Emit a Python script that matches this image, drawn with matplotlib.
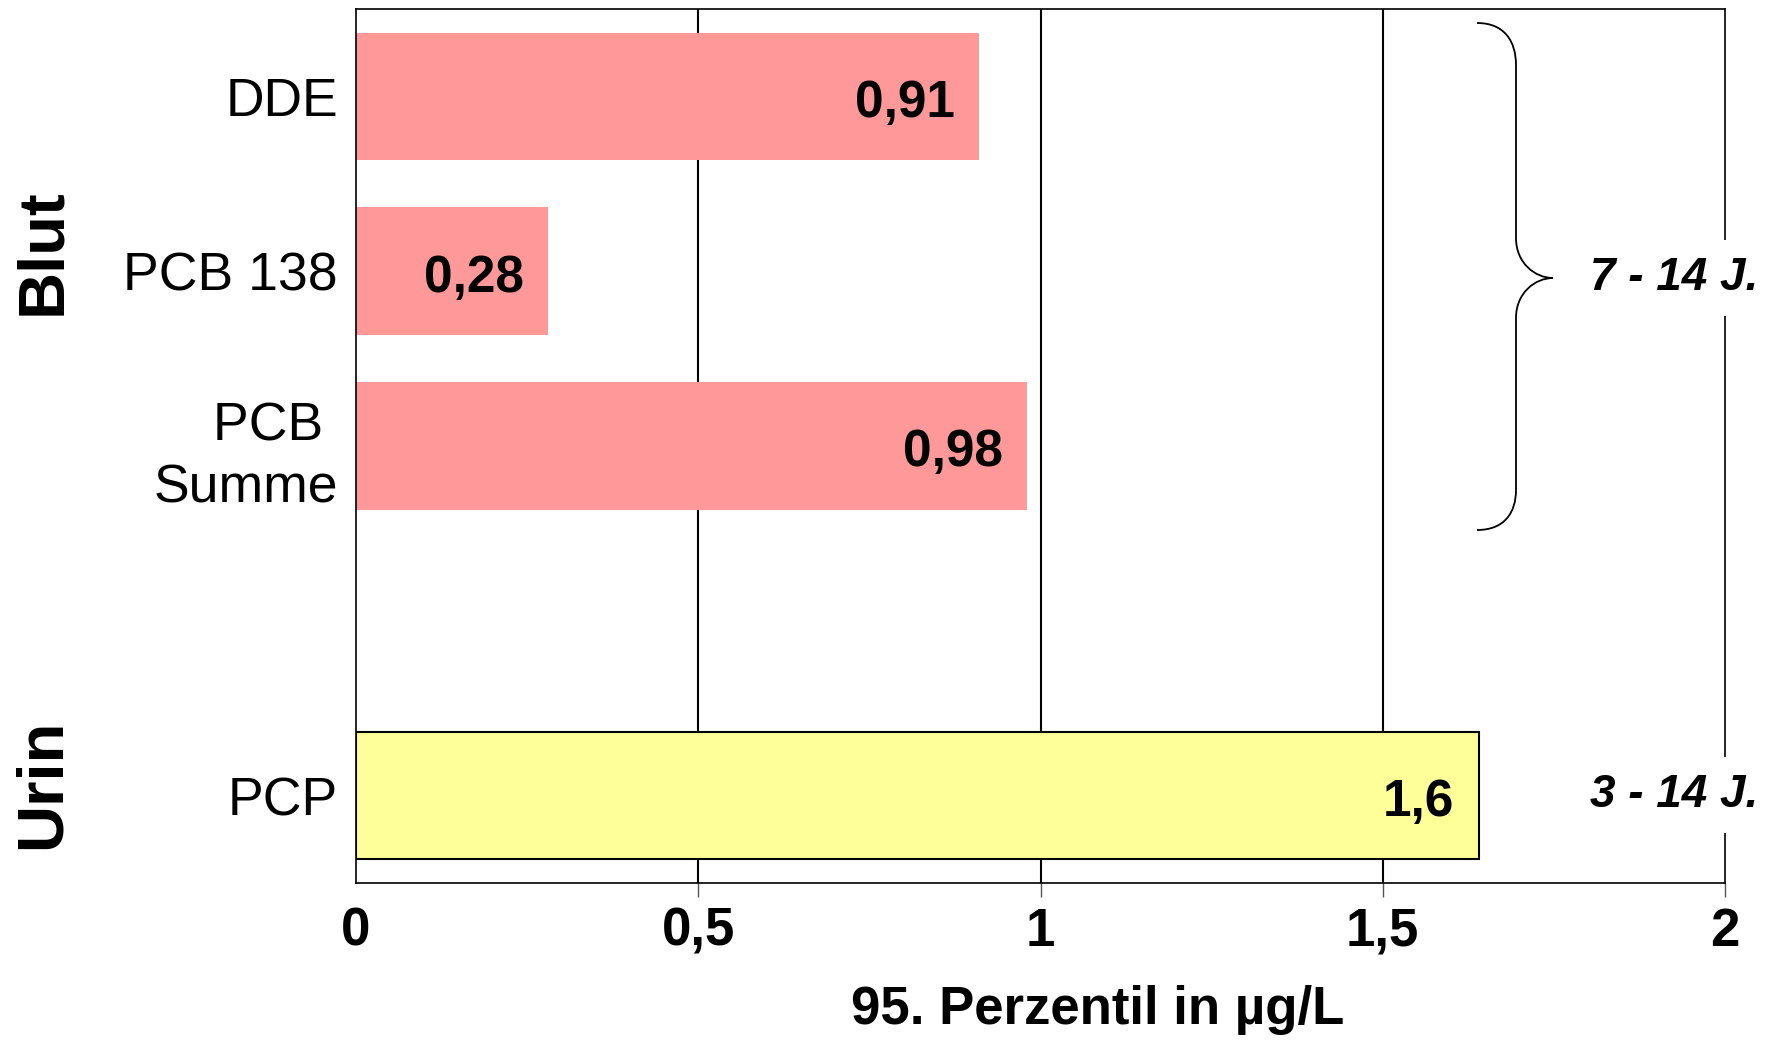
import matplotlib
matplotlib.use("Agg")
import matplotlib.pyplot as plt
from matplotlib.path import Path
from matplotlib.patches import PathPatch
from matplotlib.transforms import Affine2D

plt.rcParams['font.family'] = ['Liberation Sans', 'DejaVu Sans']

# data
labels = ["DDE", "PCB 138", "PCB \nSumme", "PCP"]
positions = [0, 1, 2, 4]
values = [0.91, 0.28, 0.98, 1.64]
value_text = ["0,91", "0,28", "0,98", "1,6"]
colors = ["#FF9999", "#FF9999", "#FF9999", "#FFFF99"]
edges = ["none", "none", "none", "black"]
xticks = [0, 0.5, 1, 1.5, 2]
xtick_labels = ["0", "0,5", "1", "1,5", "2"]
groups = [("Blut", 252), ("Urin", 784)]           # label, centre y in px
ages = [("7 - 14 J.", 278), ("3 - 14 J.", 795)]

W, H = 1778, 1040
fig = plt.figure(figsize=(W / 100, H / 100), dpi=100)
ax = fig.add_axes([356 / W, 1 - 883 / H, (1725 - 356) / W, (883 - 9) / H])

for x in [0.5, 1, 1.5]:
    ax.axvline(x, color="black", lw=1.5, zorder=1)
ax.barh(positions, values, height=0.73, color=colors, edgecolor=edges, lw=1.5, zorder=2)
for p, v, t in zip(positions, values, value_text):
    ax.text(v - 0.035, p + 0.04, t, ha="right", va="center", fontsize=37,
            fontweight="bold", zorder=3)

ax.set_xlim(0, 2)
ax.set_ylim(4.5, -0.5)
ax.set_yticks(positions)
ax.set_yticklabels(labels, fontsize=38.5, ha="right", linespacing=1.3)
for lab in ax.get_yticklabels():
    lab.set_va("center_baseline")
ax.tick_params(axis="y", length=0, pad=13)
ax.set_xticks(xticks)
ax.set_xticklabels(xtick_labels, fontsize=38, fontweight="bold")
ax.tick_params(axis="x", length=10, width=1, color="#555555", pad=7)
ax.xaxis.get_major_ticks()[0].tick1line.set_visible(False)
for s in ax.spines.values():
    s.set_linewidth(1.2)
    s.set_color("black")

ax.set_xlabel("95. Perzentil in µg/L", fontsize=38, fontweight="bold", va="center")
ax.xaxis.set_label_coords((1098 - 356) / (1725 - 356), -(1010 - 883) / (883 - 9))

# pixel transform (top-left origin)
px = Affine2D().scale(1 / W, -1 / H).translate(0, 1) + fig.transFigure

for name, yc in groups:
    fig.text(43, yc, name, transform=px, rotation=90, ha="center", va="center",
             fontsize=47, fontweight="bold")

# brace
verts = [(1477, 23), (1505, 23), (1516, 42), (1516, 65),
         (1516, 238),
         (1516, 263), (1535, 278), (1553, 278),
         (1535, 278), (1516, 293), (1516, 318),
         (1516, 490),
         (1516, 512), (1505, 530), (1477, 530)]
codes = [Path.MOVETO, Path.CURVE4, Path.CURVE4, Path.CURVE4,
         Path.LINETO,
         Path.CURVE4, Path.CURVE4, Path.CURVE4,
         Path.CURVE4, Path.CURVE4, Path.CURVE4,
         Path.LINETO,
         Path.CURVE4, Path.CURVE4, Path.CURVE4]
fig.add_artist(PathPatch(Path(verts, codes), transform=px, fill=False, lw=1.3, color="black"))

for t, yc in ages:
    fig.text(1674, yc, t, transform=px, ha="center", va="center", fontsize=33,
             fontweight="bold", style="italic", zorder=5,
             bbox=dict(boxstyle="square,pad=0.35", fc="white", ec="none"))

fig.savefig("out.png", dpi=100)
